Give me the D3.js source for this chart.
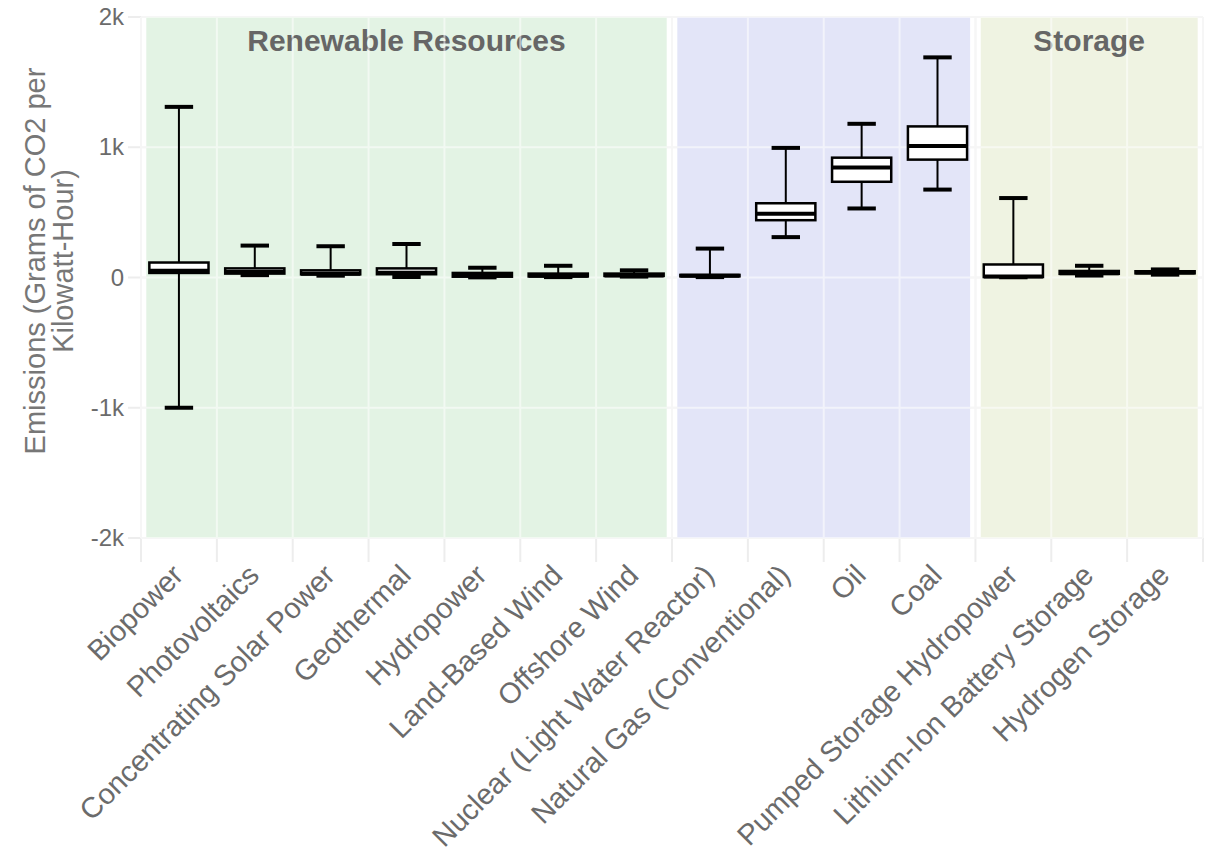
<!DOCTYPE html>
<html>
<head>
<meta charset="utf-8">
<script src="https://cdn.jsdelivr.net/npm/d3@7"></script>
<style>
  html, body { margin: 0; padding: 0; background: #fff; }
  svg { display: block; font-family: "Liberation Sans", Arial, Helvetica, sans-serif; }
</style>
</head>
<body>
<svg id="chart" width="1212" height="861"></svg>
<script>
// ---------------- DATA ----------------
const categories = [
  "Biopower", "Photovoltaics", "Concentrating Solar Power", "Geothermal",
  "Hydropower", "Land-Based Wind", "Offshore Wind", "Nuclear (Light Water Reactor)",
  "Natural Gas (Conventional)", "Oil", "Coal", "Pumped Storage Hydropower",
  "Lithium-Ion Battery Storage", "Hydrogen Storage"
];
const categoryGroup = [
  "Renewable", "Renewable", "Renewable", "Renewable", "Renewable", "Renewable", "Renewable",
  "Nonrenewable", "Nonrenewable", "Nonrenewable", "Nonrenewable",
  "Storage", "Storage", "Storage"
];
const groupKeys   = ["Renewable", "Nonrenewable", "Storage"];
const groupLabels = ["Renewable Resources", "", "Storage"];
const groupColors = ["#e3f3e4", "#e3e5f8", "#eff3e2"];

const minValues    = [-1000, 18, 14, 4, 1, 3, 7, 3, 310, 530, 675, 1.8, 15, 22];
const q1Values     = [35, 30, 24, 25, 6, 8, 12, 9, 440, 735, 905, 3.5, 28, 32];
const medianValues = [52, 43, 28, 37, 21, 13, 15, 13, 490, 845, 1010, 7.4, 33, 38];
const q3Values     = [115, 70, 55, 70, 35, 30, 30, 20, 570, 920, 1160, 100, 50, 48];
const maxValues    = [1310, 245, 240, 257, 75, 90, 55, 222, 995, 1180, 1690, 610, 90, 62];

const yTickValues = [-2000, -1000, 0, 1000, 2000];
const yTickLabels = ["-2k", "-1k", "0", "1k", "2k"];
const yTitleLines = ["Emissions (Grams of CO2 per", "Kilowatt-Hour)"];

// ---------------- LAYOUT ----------------
const W = 1212, H = 861;
const margin = { top: 17, right: 9, bottom: 323, left: 141 };
const svg = d3.select("#chart");

const x = d3.scaleBand()
  .domain(categories)
  .range([margin.left, W - margin.right])
  .paddingInner(0).paddingOuter(0);
const y = d3.scaleLinear()
  .domain([-2000, 2000])
  .range([H - margin.bottom, margin.top]);

const bw = x.bandwidth();
const boxW = bw * 0.78;
const capW = boxW * 0.48;
const x0 = margin.left, x1 = W - margin.right;
const yTop = y(2000), yBot = y(-2000);

// base grid lines (light gray), including tick stubs outside the panel
const gridBase = svg.append("g");
yTickValues.forEach(v => {
  gridBase.append("line")
    .attr("x1", x0 - 13).attr("x2", x1)
    .attr("y1", y(v)).attr("y2", y(v))
    .attr("stroke", "#ededed").attr("stroke-width", 2);
});
const boundaries = categories.map(c => x(c)).concat([x1]);
boundaries.forEach(bx => {
  gridBase.append("line")
    .attr("x1", bx).attr("x2", bx)
    .attr("y1", yTop).attr("y2", yBot + 24)
    .attr("stroke", "#ededed").attr("stroke-width", 2);
});

// group shading
const inset = bw * 0.07;
groupKeys.forEach((g, gi) => {
  const members = categories.filter((c, i) => categoryGroup[i] === g);
  const gx0 = x(members[0]) + inset;
  const gx1 = x(members[members.length - 1]) + bw - inset;
  svg.append("rect")
    .attr("x", gx0).attr("y", yTop)
    .attr("width", gx1 - gx0).attr("height", yBot - yTop)
    .attr("fill", groupColors[gi]);
  if (groupLabels[gi]) {
    svg.append("text")
      .attr("x", (gx0 + gx1) / 2).attr("y", 51)
      .attr("text-anchor", "middle")
      .attr("font-size", 30).attr("font-weight", "bold")
      .attr("fill", "#666666")
      .text(groupLabels[gi]);
  }
});

// light grid over shading
const gridTop = svg.append("g").attr("opacity", 0.55);
yTickValues.forEach(v => {
  gridTop.append("line")
    .attr("x1", x0).attr("x2", x1)
    .attr("y1", y(v)).attr("y2", y(v))
    .attr("stroke", "#ffffff").attr("stroke-width", 2);
});
boundaries.forEach(bx => {
  gridTop.append("line")
    .attr("x1", bx).attr("x2", bx)
    .attr("y1", yTop).attr("y2", yBot)
    .attr("stroke", "#ffffff").attr("stroke-width", 2);
});

// y tick labels
const yAxis = d3.axisLeft(y)
  .tickValues(yTickValues)
  .tickFormat((d, i) => yTickLabels[i])
  .tickSize(0).tickPadding(17);
const yg = svg.append("g").attr("transform", `translate(${x0},0)`).call(yAxis);
yg.select(".domain").remove();
yg.selectAll("text").attr("font-size", 24).attr("fill", "#6b6b6b")
  .attr("font-family", "'Liberation Sans', Arial, sans-serif");

// y title
const yMid = 261;
yTitleLines.forEach((line, i) => {
  svg.append("text")
    .attr("transform", `translate(${45 + i * 28},${yMid}) rotate(-90)`)
    .attr("text-anchor", "middle")
    .attr("font-size", 29)
    .attr("fill", "#777777")
    .text(line);
});

// x tick labels via axis
const xAxis = d3.axisBottom(x).tickSize(0).tickPadding(0);
const xg = svg.append("g").attr("transform", `translate(0,${yBot})`).call(xAxis);
xg.select(".domain").remove();
xg.selectAll("text")
  .attr("font-size", 29).attr("fill", "#6b6b6b")
  .attr("font-family", "'Liberation Sans', Arial, sans-serif")
  .attr("text-anchor", "end")
  .attr("dy", null)
  .attr("y", 0)
  .attr("transform", "translate(6,39) rotate(-45)");

// boxes
const boxes = svg.append("g");
categories.forEach((c, i) => {
  const cx = x(c) + bw / 2;
  const g = boxes.append("g");
  g.append("line").attr("x1", cx).attr("x2", cx)
    .attr("y1", y(maxValues[i])).attr("y2", y(q3Values[i]))
    .attr("stroke", "#000").attr("stroke-width", 2);
  g.append("line").attr("x1", cx).attr("x2", cx)
    .attr("y1", y(q1Values[i])).attr("y2", y(minValues[i]))
    .attr("stroke", "#000").attr("stroke-width", 2);
  [maxValues[i], minValues[i]].forEach(v => {
    g.append("line").attr("x1", cx - capW / 2).attr("x2", cx + capW / 2)
      .attr("y1", y(v)).attr("y2", y(v))
      .attr("stroke", "#000").attr("stroke-width", 4);
  });
  g.append("rect")
    .attr("x", cx - boxW / 2).attr("width", boxW)
    .attr("y", y(q3Values[i])).attr("height", Math.max(0, y(q1Values[i]) - y(q3Values[i])))
    .attr("fill", "#ffffff").attr("stroke", "#000").attr("stroke-width", 2.5);
  g.append("line").attr("x1", cx - boxW / 2).attr("x2", cx + boxW / 2)
    .attr("y1", y(medianValues[i])).attr("y2", y(medianValues[i]))
    .attr("stroke", "#000").attr("stroke-width", 4);
});
</script>
</body>
</html>
